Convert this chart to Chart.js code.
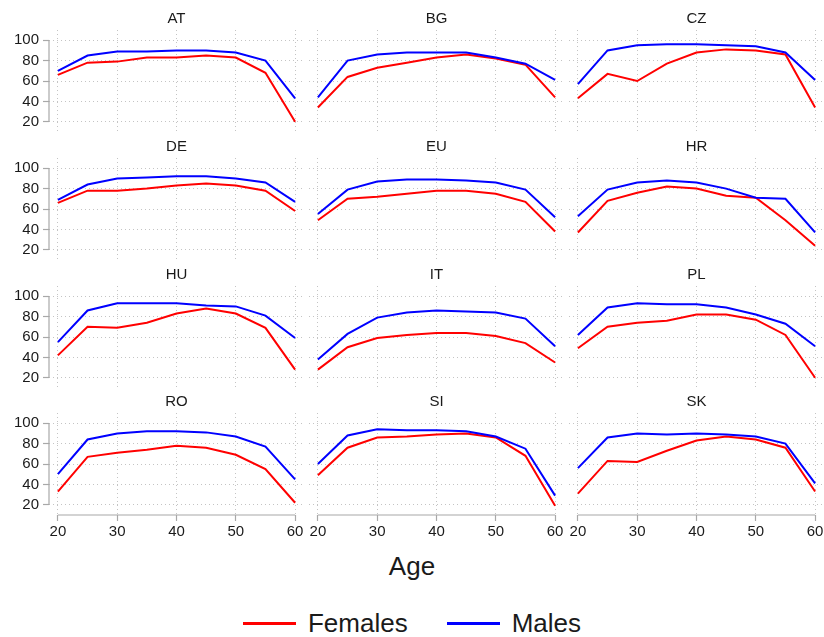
<!DOCTYPE html>
<html>
<head>
<meta charset="utf-8">
<script src="https://cdn.jsdelivr.net/npm/chart.js@4.4.1/dist/chart.umd.min.js"></script>
<style>
  body { margin: 0; background: #fff; font-family: "Liberation Sans", Arial, sans-serif; color: #1a1a1a; }
  #wrap { position: relative; width: 824px; height: 637px; overflow: hidden; }
  .panel { position: absolute; }
  #xtitle { position: absolute; left: 0; width: 824px; top: 551px; line-height: 30px; text-align: center; font-size: 26px; }
  #legend { position: absolute; left: 0; width: 824px; top: 608px; height: 30px; display: flex; justify-content: center; align-items: center; font-size: 26px; }
  .swatch { display: inline-block; width: 53px; height: 3px; margin-right: 12px; }
  .item { display: flex; align-items: center; }
  .item + .item { margin-left: 39px; }
</style>
</head>
<body>
<div id="wrap">
  <div id="xtitle">Age</div>
  <div id="legend">
    <div class="item"><span class="swatch" style="background:#ff0000"></span>Females</div>
    <div class="item"><span class="swatch" style="background:#0000ff"></span>Males</div>
  </div>
</div>
<script>
// data
var ages = [20, 25, 30, 35, 40, 45, 50, 55, 60];
var countries = ['AT', 'BG', 'CZ', 'DE', 'EU', 'HR', 'HU', 'IT', 'PL', 'RO', 'SI', 'SK'];
var yTicks = [20, 40, 60, 80, 100];
var xTicks = [20, 30, 40, 50, 60];

var females = [
  [66, 78, 79, 83, 83, 85, 83, 68, 20],   // AT
  [34, 64, 73, 78, 83, 86, 82, 76, 44],   // BG
  [43, 67, 60, 77, 88, 91, 90, 86, 34],   // CZ
  [66, 78, 78, 80, 83, 85, 83, 78, 58],   // DE
  [49, 70, 72, 75, 78, 78, 75, 67, 38],   // EU
  [37, 68, 76, 82, 80, 73, 71, 49, 24],   // HR
  [42, 70, 69, 74, 83, 88, 83, 69, 28],   // HU
  [28, 50, 59, 62, 64, 64, 61, 54, 35],   // IT
  [49, 70, 74, 76, 82, 82, 77, 62, 20],   // PL
  [33, 67, 71, 74, 78, 76, 69, 55, 22],   // RO
  [49, 76, 86, 87, 89, 90, 86, 68, 19],   // SI
  [31, 63, 62, 73, 83, 87, 84, 76, 33]    // SK
];
var males = [
  [70, 85, 89, 89, 90, 90, 88, 80, 43],   // AT
  [44, 80, 86, 88, 88, 88, 83, 77, 61],   // BG
  [57, 90, 95, 96, 96, 95, 94, 88, 61],   // CZ
  [69, 84, 90, 91, 92, 92, 90, 86, 67],   // DE
  [55, 79, 87, 89, 89, 88, 86, 79, 52],   // EU
  [53, 79, 86, 88, 86, 80, 71, 70, 37],   // HR
  [55, 86, 93, 93, 93, 91, 90, 81, 59],   // HU
  [38, 63, 79, 84, 86, 85, 84, 78, 51],   // IT
  [62, 89, 93, 92, 92, 89, 82, 73, 51],   // PL
  [50, 84, 90, 92, 92, 91, 87, 77, 45],   // RO
  [60, 88, 94, 93, 93, 92, 87, 75, 29],   // SI
  [56, 86, 90, 89, 90, 89, 87, 80, 41]    // SK
];

var regionLeft = [49, 309, 569];
var regionTop = [30, 158, 286, 413];

Chart.defaults.font.family = '"Liberation Sans", Arial, sans-serif';
Chart.defaults.font.size = 15;
Chart.defaults.color = '#1a1a1a';

// axis lines (only over the tick range) and panel title
var frame = {
  id: 'frame',
  afterDraw: function(chart, args, opts) {
    var ctx = chart.ctx, a = chart.chartArea, x = chart.scales.x, y = chart.scales.y;
    ctx.save();
    ctx.strokeStyle = '#a8a8a8';
    ctx.lineWidth = 1.2;
    if (opts.left) {
      ctx.beginPath();
      ctx.moveTo(a.left, y.getPixelForValue(100));
      ctx.lineTo(a.left, y.getPixelForValue(20));
      ctx.stroke();
    }
    if (opts.bottom) {
      ctx.beginPath();
      ctx.moveTo(x.getPixelForValue(20), a.bottom);
      ctx.lineTo(x.getPixelForValue(60), a.bottom);
      ctx.stroke();
    }
    ctx.fillStyle = '#1a1a1a';
    ctx.font = '15px "Liberation Sans", Arial, sans-serif';
    ctx.textAlign = 'center';
    ctx.textBaseline = 'middle';
    ctx.fillText(opts.title, x.getPixelForValue(40), a.top - 11);
    ctx.restore();
  }
};

function toPoints(vals) {
  return ages.map(function(a, i) { return { x: a, y: vals[i] }; });
}

function makePanel(i) {
  var col = i % 3, row = Math.floor(i / 3);
  var left = col === 0, bottom = row === 3;
  var yW = left ? 49 : 0, xH = bottom ? 32 : 0;

  var box = document.createElement('div');
  box.className = 'panel';
  box.style.left = (regionLeft[col] - yW) + 'px';
  box.style.top = (regionTop[row] - 30) + 'px';
  box.style.width = (yW + 255) + 'px';
  box.style.height = (30 + 102 + xH) + 'px';
  var canvas = document.createElement('canvas');
  box.appendChild(canvas);
  document.getElementById('wrap').appendChild(box);

  new Chart(canvas.getContext('2d'), {
    type: 'line',
    data: {
      datasets: [{
        label: 'Males',
        data: toPoints(males[i]),
        borderColor: '#0000ff',
        borderWidth: 2,
        pointRadius: 0,
        tension: 0,
        order: 0
      }, {
        label: 'Females',
        data: toPoints(females[i]),
        borderColor: '#ff0000',
        borderWidth: 2,
        pointRadius: 0,
        tension: 0,
        order: 1
      }]
    },
    options: {
      responsive: true,
      maintainAspectRatio: false,
      animation: false,
      clip: false,
      layout: { padding: { top: 30, left: 0, right: 0, bottom: 0 } },
      plugins: {
        legend: { display: false },
        tooltip: { enabled: false },
        frame: { title: countries[i], left: left, bottom: bottom }
      },
      scales: {
        x: {
          type: 'linear',
          min: 18.5,
          max: 61.5,
          afterBuildTicks: function(s) { s.ticks = xTicks.map(function(v) { return { value: v }; }); },
          afterFit: function(s) { s.height = xH; s.paddingLeft = 0; s.paddingRight = 0; },
          ticks: { display: bottom, padding: 2, maxRotation: 0, autoSkip: false },
          grid: { color: '#c4c4c4', drawTicks: bottom, tickLength: 6, tickColor: '#a8a8a8', tickWidth: 1.2 },
          border: { display: false, dash: [1, 3] }
        },
        y: {
          type: 'linear',
          min: 10,
          max: 110,
          afterBuildTicks: function(s) { s.ticks = yTicks.map(function(v) { return { value: v }; }); },
          afterFit: function(s) { s.width = yW; s.paddingTop = 0; s.paddingBottom = 0; },
          ticks: { display: left, padding: 4 },
          grid: { color: '#c4c4c4', drawTicks: left, tickLength: 6, tickColor: '#a8a8a8', tickWidth: 1.2 },
          border: { display: false, dash: [1, 3] }
        }
      }
    },
    plugins: [frame]
  });
}

function init() {
  for (var i = 0; i < countries.length; i++) {
    makePanel(i);
  }
}

init();
</script>
</body>
</html>
